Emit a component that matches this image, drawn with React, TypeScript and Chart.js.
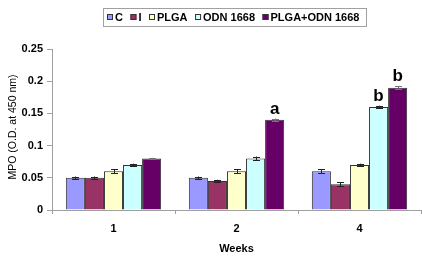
import React, { useEffect, useRef } from "react";
import { Chart, registerables } from "chart.js";

Chart.register(...registerables);

const categories = ["1", "2", "4"];
const seriesNames = ["C", "I", "PLGA", "ODN 1668", "PLGA+ODN 1668"];
const seriesColors = ["#9999FF", "#993366", "#FFFFCC", "#CCFFFF", "#660066"];
const valuesC = [0.05, 0.05, 0.06];
const valuesI = [0.05, 0.045, 0.04];
const valuesPLGA = [0.06, 0.06, 0.07];
const valuesODN = [0.07, 0.08, 0.16];
const valuesPLGAODN = [0.08, 0.14, 0.19];
const errorsC = [0.002, 0.002, 0.003];
const errorsI = [0.002, 0.002, 0.003];
const errorsPLGA = [0.003, 0.003, 0.002];
const errorsODN = [0.002, 0.003, 0.002];
const errorsPLGAODN = [0.001, 0.002, 0.002];
// significance letters: [seriesIndex, categoryIndex, letter]
const letters: [number, number, string][] = [
  [4, 1, "a"],
  [3, 2, "b"],
  [4, 2, "b"],
];
const yTicks = [0, 0.05, 0.1, 0.15, 0.2, 0.25];
const yTitle = "MPO (O.D. at 450 nm)";
const xTitle = "Weeks";

const seriesValues = [valuesC, valuesI, valuesPLGA, valuesODN, valuesPLGAODN];
const seriesErrors = [errorsC, errorsI, errorsPLGA, errorsODN, errorsPLGAODN];

const FONT = "'Liberation Sans', Arial, sans-serif";

const errorBarPlugin = {
  id: "errorBars",
  afterDatasetsDraw(chart: any) {
    const ctx = chart.ctx;
    const y = chart.scales.y;
    ctx.save();
    chart.data.datasets.forEach((ds: any, di: number) => {
      const meta = chart.getDatasetMeta(di);
      meta.data.forEach((bar: any, i: number) => {
        const v = ds.data[i];
        const e = seriesErrors[di][i];
        const yTop = y.getPixelForValue(v + e);
        const yBot = y.getPixelForValue(v - e);
        const x = bar.x;
        ctx.strokeStyle = di === 4 ? "#777777" : "#222222";
        ctx.lineWidth = 1;
        ctx.beginPath();
        ctx.moveTo(Math.round(x) + 0.5, yTop);
        ctx.lineTo(Math.round(x) + 0.5, yBot);
        ctx.moveTo(Math.round(x) - 3, Math.round(yTop) + 0.5);
        ctx.lineTo(Math.round(x) + 4, Math.round(yTop) + 0.5);
        ctx.moveTo(Math.round(x) - 3, Math.round(yBot) + 0.5);
        ctx.lineTo(Math.round(x) + 4, Math.round(yBot) + 0.5);
        ctx.stroke();
      });
    });
    ctx.fillStyle = "#000000";
    ctx.font = `bold 17px ${FONT}`;
    ctx.textAlign = "center";
    ctx.textBaseline = "alphabetic";
    letters.forEach(([si, ci, txt]) => {
      const bar = chart.getDatasetMeta(si).data[ci];
      const v = seriesValues[si][ci] + seriesErrors[si][ci];
      ctx.fillText(txt, bar.x, y.getPixelForValue(v) - 5);
    });
    // y axis title
    ctx.save();
    ctx.translate(13, 127);
    ctx.rotate(-Math.PI / 2);
    ctx.font = `10.5px ${FONT}`;
    ctx.textBaseline = "middle";
    ctx.textAlign = "center";
    ctx.fillText(yTitle, 0, 0);
    ctx.restore();
    ctx.restore();
  },
};

const legendPlugin = {
  id: "boxLegend",
  afterDraw(chart: any) {
    const ctx = chart.ctx;
    ctx.save();
    ctx.font = `bold 11px ${FONT}`;
    ctx.textBaseline = "middle";
    ctx.textAlign = "left";
    const left = 103.5;
    const top = 8.5;
    const right = 366.5;
    const bottom = 26.5;
    ctx.strokeStyle = "#A0A0A0";
    ctx.lineWidth = 1;
    ctx.strokeRect(left, top, right - left, bottom - top);
    const cy = 17;
    let x = 107;
    seriesNames.forEach((name, i) => {
      ctx.fillStyle = seriesColors[i];
      ctx.fillRect(x, cy - 3, 6, 6);
      ctx.strokeStyle = "#333333";
      ctx.strokeRect(x + 0.5, cy - 3 + 0.5, 5, 5);
      ctx.fillStyle = "#000000";
      ctx.fillText(name, x + 8, cy + 0.5);
      x += 8 + ctx.measureText(name).width + 7.5;
    });
    ctx.restore();
  },
};

export default function App() {
  const ref = useRef<HTMLCanvasElement | null>(null);
  useEffect(() => {
    document.body.style.margin = "0";
    const canvas = ref.current;
    if (!canvas) return;
    const chart = new Chart(canvas, {
      type: "bar",
      data: {
        labels: categories,
        datasets: seriesNames.map((name, i) => ({
          label: name,
          data: seriesValues[i],
          backgroundColor: seriesColors[i],
          borderColor: "#333333",
          borderWidth: 1,
          borderSkipped: "bottom" as const,
          categoryPercentage: 0.775,
          barPercentage: 1,
        })),
      },
      options: {
        responsive: false,
        animation: false,
        devicePixelRatio: 1,
        layout: { padding: { top: 49, right: 1, left: 0, bottom: 0 } },
        plugins: {
          legend: { display: false },
          tooltip: { enabled: false },
        },
        scales: {
          x: {
            afterFit(scale: any) {
              scale.height = 47;
            },
            grid: {
              display: true,
              drawOnChartArea: false,
              drawTicks: true,
              tickLength: 4,
              color: "#A0A0A0",
              offset: true,
            },
            border: { display: true, color: "#A0A0A0" },
            ticks: {
              color: "#000000",
              font: { family: FONT, size: 11, weight: "bold" },
              padding: 8,
              maxRotation: 0,
            },
            title: {
              display: true,
              text: xTitle,
              color: "#000000",
              font: { family: FONT, size: 11, weight: "bold" },
              padding: { top: 4, bottom: 1 },
            },
          },
          y: {
            min: 0,
            max: 0.25,
            afterFit(scale: any) {
              scale.width = 52;
            },
            afterBuildTicks(scale: any) {
              scale.ticks = yTicks.map((v) => ({ value: v }));
            },
            grid: {
              display: true,
              drawOnChartArea: false,
              drawTicks: true,
              tickLength: 5,
              color: "#A0A0A0",
            },
            border: { display: true, color: "#A0A0A0" },
            ticks: {
              color: "#000000",
              font: { family: FONT, size: 11, weight: "bold" },
              padding: 4,
              callback: (v: any) => String(Number(v)),
            },
          },
        },
      },
      plugins: [errorBarPlugin, legendPlugin],
    } as any);
    return () => chart.destroy();
  }, []);
  return <canvas ref={ref} width={422} height={257} style={{ display: "block" }} />;
}
